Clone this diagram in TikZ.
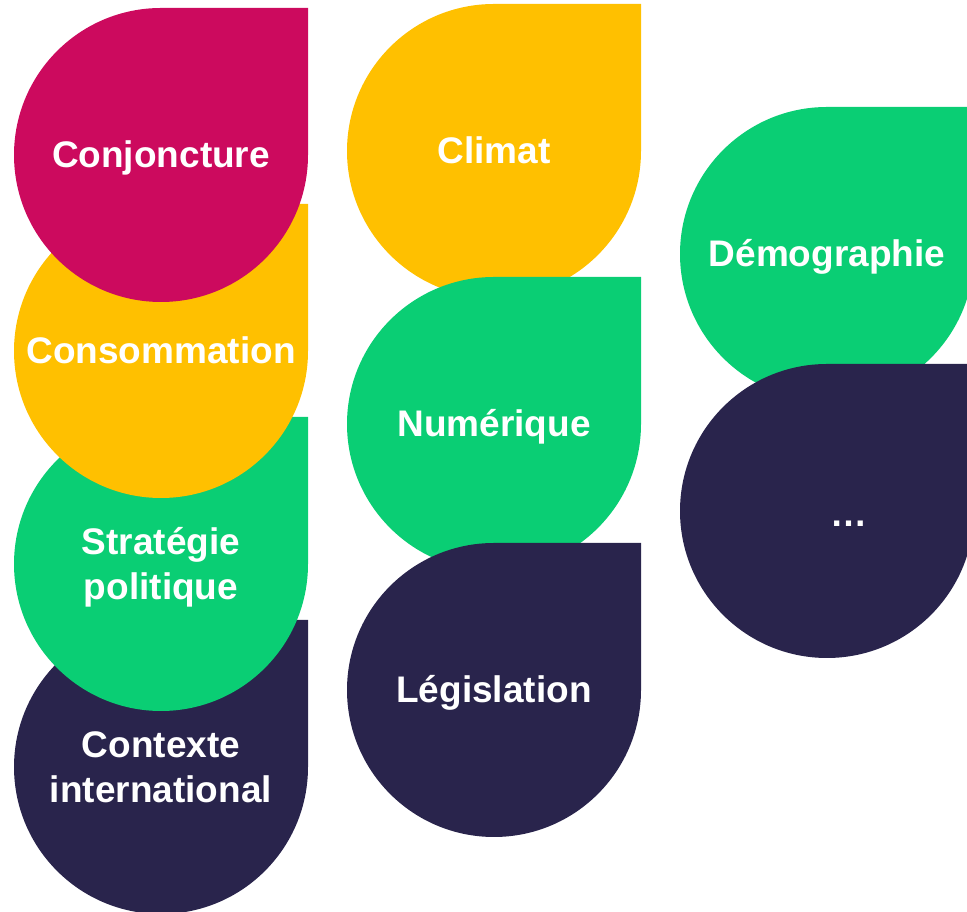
\documentclass[tikz,border=0pt]{standalone}
\usepackage{fontspec}
\setmainfont{Liberation Sans}
\usepackage{tikz}
\usepackage{xcolor}
\definecolor{conjred}{HTML}{CC0A5E}
\definecolor{sunyellow}{HTML}{FFC000}
\definecolor{leafgreen}{HTML}{0ACE74}
\definecolor{nightblue}{HTML}{29244C}

\begin{document}
\begin{tikzpicture}[x=1pt, y=1pt,
		lbl/.style={text=white, font=\bfseries\fontsize{37}{45}\selectfont, align=center, anchor=base}]
				\useasboundingbox (0, 0) rectangle (967, 912);
				% first column, from the bottom up
				\fill[nightblue] (308, 145) arc[start angle=0, end angle=-270, radius=147] -- (308, 292) -- cycle;
				\fill[leafgreen] (308, 348) arc[start angle=0, end angle=-270, radius=147] -- (308, 495) -- cycle;
				\fill[sunyellow] (308, 561) arc[start angle=0, end angle=-270, radius=147] -- (308, 708) -- cycle;
				\fill[conjred] (308, 757) arc[start angle=0, end angle=-270, radius=147] -- (308, 904) -- cycle;
				\node[lbl] (contexte) at (161, 109) {Contexte\\international};
				\node[lbl] (strategie) at (161, 312) {Stratégie\\politique};
				\node[lbl] (consommation) at (161, 548) {Consommation};
				\node[lbl] (conjoncture) at (161, 744) {Conjoncture};
				% second column
				\fill[sunyellow] (641, 761) arc[start angle=0, end angle=-270, radius=147] -- (641, 908) -- cycle;
				\fill[leafgreen] (641, 488) arc[start angle=0, end angle=-270, radius=147] -- (641, 635) -- cycle;
				\fill[nightblue] (641, 222) arc[start angle=0, end angle=-270, radius=147] -- (641, 369) -- cycle;
				\node[lbl] (climat) at (494, 748) {Climat};
				\node[lbl] (numerique) at (494, 475) {Numérique};
				\node[lbl] (legislation) at (494, 209) {Législation};
				% third column
				\fill[leafgreen] (974, 658) arc[start angle=0, end angle=-270, radius=147] -- (974, 805) -- cycle;
				\fill[nightblue] (974, 401) arc[start angle=0, end angle=-270, radius=147] -- (974, 548) -- cycle;
				\node[lbl] (demographie) at (827, 645) {Démographie};
				\node[lbl] (etc) at (849, 385) {…};
			\end{tikzpicture}
\end{document}
